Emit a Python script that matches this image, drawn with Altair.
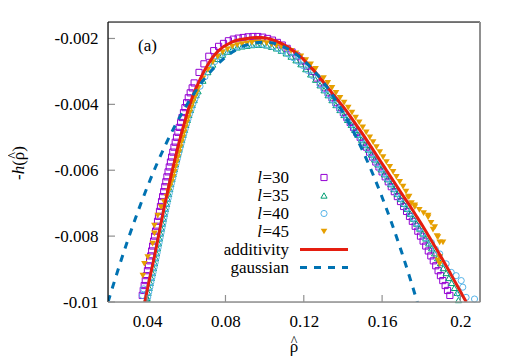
import altair as alt
import pandas as pd

# ---------------- data ----------------
# additivity (red solid line)
add_x = [0.0388, 0.0395, 0.0405, 0.0416, 0.0427, 0.0438, 0.0448, 0.0458, 0.0468, 0.0478, 0.0488,
         0.0499, 0.0510, 0.0521, 0.0533, 0.0545, 0.0557, 0.0570, 0.0584, 0.0598, 0.0613, 0.0630, 0.0650,
         0.066, 0.0685, 0.071, 0.0735, 0.076, 0.0785, 0.081, 0.0835, 0.086, 0.0885, 0.091, 0.0935,
         0.096, 0.0985, 0.101, 0.1035, 0.106, 0.1085, 0.111, 0.1135, 0.116, 0.1185, 0.121, 0.1235, 0.126,
         0.1283, 0.1324, 0.1364, 0.1405, 0.1442, 0.1477, 0.1512, 0.1545, 0.1578, 0.1611, 0.1644, 0.1677,
         0.1710, 0.1744, 0.1776, 0.1808, 0.1838, 0.1868, 0.1898, 0.1927, 0.1955, 0.1983, 0.2011, 0.2030]
add_y = [-0.0100, -0.0098, -0.0095, -0.0092, -0.0089, -0.0086, -0.0083, -0.0080, -0.0077, -0.0074, -0.0071,
         -0.0068, -0.0065, -0.0062, -0.0059, -0.0056, -0.0053, -0.0050, -0.0047, -0.0044, -0.0041, -0.0038, -0.0035,
         -0.00338, -0.00306, -0.00280, -0.00257, -0.00240, -0.00227, -0.00218, -0.00210, -0.00205, -0.00202, -0.00200, -0.00198,
         -0.00197, -0.00197, -0.00199, -0.00203, -0.00208, -0.00215, -0.00223, -0.00233, -0.00244, -0.00256, -0.00271, -0.00287, -0.00303,
         -0.0032, -0.0035, -0.0038, -0.0041, -0.0044, -0.0047, -0.0050, -0.0053, -0.0056, -0.0059, -0.0062, -0.0065,
         -0.0068, -0.0071, -0.0074, -0.0077, -0.0080, -0.0083, -0.0086, -0.0089, -0.0092, -0.0095, -0.0098, -0.0100]

# gaussian (blue dashed line)
gau_x = [0.02, 0.03, 0.04, 0.05, 0.06, 0.07, 0.08, 0.09, 0.10, 0.11, 0.12, 0.13, 0.14, 0.15, 0.16, 0.17, 0.18]
gau_y = [-0.0100, -0.00814, -0.00652, -0.00515, -0.00404, -0.00317, -0.00257, -0.00221, -0.00211,
         -0.00226, -0.00267, -0.00333, -0.00424, -0.00540, -0.00682, -0.00849, -0.0104]

# l=30 (open squares)
l30_x = [0.0375, 0.0385, 0.0396, 0.0407, 0.0418, 0.0428, 0.0438, 0.0448, 0.0458, 0.0468, 0.0479, 0.0490,
         0.0501, 0.0513, 0.0525, 0.0537, 0.0550, 0.0564, 0.0578, 0.0593, 0.0610, 0.0630,
         0.0380, 0.03905, 0.04015, 0.04125, 0.0423, 0.0433, 0.0443, 0.0453, 0.0463, 0.04735, 0.04845,
         0.04955, 0.0507, 0.0519, 0.0531, 0.05435, 0.0557, 0.0571, 0.05855, 0.06015, 0.0620,
         0.064, 0.0665, 0.069, 0.0715, 0.074, 0.0765, 0.079, 0.0815, 0.084, 0.0865, 0.089, 0.0915, 0.094,
         0.0965, 0.099, 0.1015, 0.104, 0.1065, 0.109, 0.1115, 0.114, 0.1165, 0.119, 0.1215, 0.124,
         0.1265, 0.1305, 0.1344, 0.1384, 0.1420, 0.1454, 0.1488, 0.1520, 0.1552, 0.1584, 0.1616, 0.1647,
         0.1678, 0.1710, 0.1740, 0.1769, 0.1796, 0.1823, 0.1849, 0.1874, 0.1898, 0.1922, 0.1946,
         0.1285, 0.13245, 0.1364, 0.1402, 0.1437, 0.1471, 0.1504, 0.1536, 0.1568, 0.1600, 0.16315,
         0.16625, 0.1694, 0.1725, 0.17545, 0.17825, 0.18095, 0.1836, 0.18615, 0.1886, 0.1910, 0.1934]
l30_y = [-0.0098, -0.0095, -0.0092, -0.0089, -0.0086, -0.0083, -0.0080, -0.0077, -0.0074, -0.0071, -0.0068, -0.0065,
         -0.0062, -0.0059, -0.0056, -0.0053, -0.0050, -0.0047, -0.0044, -0.0041, -0.0038, -0.0035,
         -0.00965, -0.00935, -0.00905, -0.00875, -0.00845, -0.00815, -0.00785, -0.00755, -0.00725, -0.00695, -0.00665,
         -0.00635, -0.00605, -0.00575, -0.00545, -0.00515, -0.00485, -0.00455, -0.00425, -0.00395, -0.00365,
         -0.00335, -0.00303, -0.00277, -0.00254, -0.00237, -0.00224, -0.00215, -0.00207, -0.00202, -0.00199, -0.00197, -0.00195, -0.00194,
         -0.00194, -0.00196, -0.00200, -0.00205, -0.00212, -0.00220, -0.00230, -0.00241, -0.00253, -0.00268, -0.00284, -0.00300,
         -0.0032, -0.0035, -0.0038, -0.0041, -0.0044, -0.0047, -0.0050, -0.0053, -0.0056, -0.0059, -0.0062, -0.0065,
         -0.0068, -0.0071, -0.0074, -0.0077, -0.0080, -0.0083, -0.0086, -0.0089, -0.0092, -0.0095, -0.0098,
         -0.00335, -0.00365, -0.00395, -0.00425, -0.00455, -0.00485, -0.00515, -0.00545, -0.00575, -0.00605, -0.00635,
         -0.00665, -0.00695, -0.00725, -0.00755, -0.00785, -0.00815, -0.00845, -0.00875, -0.00905, -0.00935, -0.00965]

# l=35 (open triangles)
l35_x = [0.0399, 0.0405, 0.0416, 0.0427, 0.0438, 0.0448, 0.0458, 0.0468, 0.0478, 0.0488, 0.0499, 0.0510,
         0.0521, 0.0533, 0.0545, 0.0557, 0.0570, 0.0584, 0.0598, 0.0613, 0.0630, 0.0650,
         0.0400, 0.04105, 0.04215, 0.04325, 0.0443, 0.0453, 0.0463, 0.0473, 0.0483, 0.04935, 0.05045,
         0.05155, 0.0527, 0.0539, 0.0551, 0.05635, 0.0577, 0.0591, 0.06055, 0.06215, 0.0640,
         0.066, 0.0685, 0.071, 0.0735, 0.076, 0.0785, 0.081, 0.0835, 0.086, 0.0885, 0.091, 0.0935, 0.096,
         0.0985, 0.101, 0.1035, 0.106, 0.1085, 0.111, 0.1135, 0.116, 0.1185, 0.121, 0.1235, 0.126,
         0.1283, 0.1324, 0.1364, 0.1405, 0.1442, 0.1477, 0.1512, 0.1545, 0.1578, 0.1611, 0.1644, 0.1677,
         0.1710, 0.1744, 0.1776, 0.1808, 0.1838, 0.1868, 0.1898, 0.1927, 0.1955, 0.1983, 0.1990,
         0.13035, 0.1344, 0.13845, 0.14235, 0.14595, 0.14945, 0.15285, 0.15615, 0.15945, 0.16275, 0.16605,
         0.16935, 0.1727, 0.1760, 0.1792, 0.1823, 0.1853, 0.1883, 0.19125, 0.1941, 0.1969]
l35_y = [-0.0099, -0.00972, -0.00942, -0.00912, -0.00882, -0.00852, -0.00822, -0.00792, -0.00762, -0.00732, -0.00702, -0.00672,
         -0.00642, -0.00612, -0.00582, -0.00552, -0.00522, -0.00492, -0.00462, -0.00432, -0.00402, -0.00372,
         -0.00987, -0.00957, -0.00927, -0.00897, -0.00867, -0.00837, -0.00807, -0.00777, -0.00747, -0.00717, -0.00687,
         -0.00657, -0.00627, -0.00597, -0.00567, -0.00537, -0.00507, -0.00477, -0.00447, -0.00417, -0.00387,
         -0.00360, -0.00328, -0.00302, -0.00279, -0.00262, -0.00249, -0.00240, -0.00232, -0.00227, -0.00224, -0.00222, -0.00220, -0.00219,
         -0.00219, -0.00221, -0.00225, -0.00230, -0.00237, -0.00245, -0.00255, -0.00266, -0.00278, -0.00293, -0.00309, -0.00325,
         -0.00342, -0.00372, -0.00402, -0.00432, -0.00462, -0.00492, -0.00522, -0.00552, -0.00582, -0.00612, -0.00642, -0.00672,
         -0.00702, -0.00732, -0.00762, -0.00792, -0.00822, -0.00852, -0.00882, -0.00912, -0.00942, -0.00972, -0.00994,
         -0.00357, -0.00387, -0.00417, -0.00447, -0.00477, -0.00507, -0.00537, -0.00567, -0.00597, -0.00627, -0.00657,
         -0.00687, -0.00717, -0.00747, -0.00777, -0.00807, -0.00837, -0.00867, -0.00897, -0.00927, -0.00957]

# l=40 (open circles)
l40_x = [0.0376, 0.0382, 0.0408, 0.0419, 0.0430, 0.0441, 0.0451, 0.0461, 0.0471, 0.0481, 0.0491, 0.0502,
         0.0513, 0.0524, 0.0536, 0.0548, 0.0560, 0.0573, 0.0587, 0.0601, 0.0616, 0.0633, 0.0653,
         0.0403, 0.04135, 0.04245, 0.04355, 0.0446, 0.0456, 0.0466, 0.0476, 0.0486, 0.04965, 0.05075,
         0.05185, 0.0530, 0.0542, 0.0554, 0.05665, 0.0580, 0.0594, 0.06085, 0.06245, 0.0643,
         0.067, 0.0695, 0.072, 0.0745, 0.077, 0.0795, 0.082, 0.0845, 0.087, 0.0895, 0.092, 0.0945,
         0.097, 0.0995, 0.102, 0.1045, 0.107, 0.1095, 0.112, 0.1145, 0.117, 0.1195, 0.122, 0.1245,
         0.1283, 0.1324, 0.1364, 0.1405, 0.1442, 0.1477, 0.1512, 0.1545, 0.1578, 0.1611, 0.1644, 0.1677,
         0.1710, 0.1744, 0.1776, 0.1810, 0.1852, 0.1872, 0.1894, 0.1927, 0.1953, 0.1978, 0.2004, 0.2012,
         0.1995, 0.2029, 0.2072,
         0.13035, 0.1344, 0.13845, 0.14235, 0.14595, 0.14945, 0.15285, 0.15615, 0.15945, 0.16275, 0.16605,
         0.16935, 0.1727, 0.1760, 0.1792, 0.1823]
l40_y = [-0.0098, -0.0096, -0.0097, -0.0094, -0.0091, -0.0088, -0.0085, -0.0082, -0.0079, -0.0076, -0.0073, -0.0070,
         -0.0067, -0.0064, -0.0061, -0.0058, -0.0055, -0.0052, -0.0049, -0.0046, -0.0043, -0.0040, -0.0037,
         -0.00985, -0.00955, -0.00925, -0.00895, -0.00865, -0.00835, -0.00805, -0.00775, -0.00745, -0.00715, -0.00685,
         -0.00655, -0.00625, -0.00595, -0.00565, -0.00535, -0.00505, -0.00475, -0.00445, -0.00415, -0.00385,
         -0.00345, -0.00316, -0.00291, -0.00270, -0.00255, -0.00243, -0.00235, -0.00228, -0.00224, -0.00221, -0.00219, -0.00218,
         -0.00217, -0.00218, -0.00221, -0.00225, -0.00231, -0.00238, -0.00247, -0.00258, -0.00269, -0.00282, -0.00297, -0.00313,
         -0.0034, -0.0037, -0.0040, -0.0043, -0.0046, -0.0049, -0.0052, -0.0055, -0.0058, -0.0061, -0.0064, -0.0067,
         -0.0070, -0.0073, -0.0076, -0.0079, -0.0082, -0.0084, -0.00854, -0.00884, -0.0091, -0.0092, -0.00935, -0.00955,
         -0.00976, -0.00986, -0.00991,
         -0.00355, -0.00385, -0.00415, -0.00445, -0.00475, -0.00505, -0.00535, -0.00565, -0.00595, -0.00625, -0.00655,
         -0.00685, -0.00715, -0.00745, -0.00775, -0.00805]

# l=45 (filled down triangles)
l45_x = [0.0378, 0.0386, 0.0403, 0.0428, 0.0437, 0.0437, 0.0454, 0.0471, 0.0486, 0.0500, 0.0516, 0.0533,
         0.0545, 0.0557, 0.0569, 0.0582, 0.0596, 0.0610, 0.0625, 0.0642, 0.0662,
         0.0508, 0.05245, 0.0539, 0.0551, 0.0563, 0.05755, 0.0589, 0.0603, 0.06175, 0.06335, 0.0652,
         0.0685, 0.071, 0.0735, 0.076, 0.0785, 0.081, 0.0835, 0.086, 0.0885, 0.091, 0.0935, 0.096,
         0.0985, 0.101, 0.1035, 0.106, 0.1085, 0.111, 0.1135, 0.116, 0.1185, 0.121, 0.1235, 0.126,
         0.1301, 0.1344, 0.1385, 0.1427, 0.1465, 0.1501, 0.1537, 0.1571, 0.1605, 0.1639, 0.1673, 0.1707,
         0.13225, 0.13645, 0.1406, 0.1446, 0.1483, 0.1519, 0.1554, 0.1588, 0.1622, 0.1656, 0.1690, 0.1722,
         0.1733, 0.1738, 0.1750, 0.1767, 0.1767, 0.1790, 0.1812, 0.1835, 0.1835, 0.1850, 0.1860, 0.1869,
         0.1880, 0.1885, 0.1894, 0.1911, 0.1894, 0.1885, 0.1894]
l45_y = [-0.0092, -0.00884, -0.00864, -0.00823, -0.00792, -0.00768, -0.00738, -0.00712, -0.00695, -0.0068, -0.0065, -0.0062,
         -0.0059, -0.0056, -0.0053, -0.0050, -0.0047, -0.0044, -0.0041, -0.0038, -0.0035,
         -0.00665, -0.00635, -0.00605, -0.00575, -0.00545, -0.00515, -0.00485, -0.00455, -0.00425, -0.00395, -0.00365,
         -0.00321, -0.00295, -0.00272, -0.00255, -0.00242, -0.00233, -0.00225, -0.00220, -0.00217, -0.00215, -0.00213, -0.00212,
         -0.00212, -0.00214, -0.00218, -0.00222, -0.00225, -0.00230, -0.00238, -0.00245, -0.00254, -0.00266, -0.00279, -0.00292,
         -0.0032, -0.0035, -0.0038, -0.0041, -0.0044, -0.0047, -0.0050, -0.0053, -0.0056, -0.0059, -0.0062, -0.0065,
         -0.00335, -0.00365, -0.00395, -0.00425, -0.00455, -0.00485, -0.00515, -0.00545, -0.00575, -0.00605, -0.00635, -0.00665,
         -0.00682, -0.0068, -0.0070, -0.00712, -0.00707, -0.0072, -0.0073, -0.00738, -0.00743, -0.0076, -0.0078, -0.00773,
         -0.0080, -0.00803, -0.00819, -0.00819, -0.00864, -0.00874, -0.00884]

series_names = ["l=30", "l=35", "l=40", "l=45"]
line_names = ["additivity", "gaussian"]
x_ticks = [0.04, 0.08, 0.12, 0.16, 0.2]
y_ticks = [-0.002, -0.004, -0.006, -0.008, -0.01]
x_domain = [0.02, 0.21]
y_domain = [-0.01, -0.0015]
panel_label = "(a)"

# ---------------- styling ----------------
W, H = 372, 280
FONT = "Liberation Serif"
FS = 17
C30, C35, C40, C45 = "#9400d3", "#009e73", "#56b4e9", "#e69f00"
CRED, CBLUE = "#e51e10", "#0072b2"
GRAY = "#909090"

xscale = alt.Scale(domain=x_domain, nice=False, zero=False)
yscale = alt.Scale(domain=y_domain, nice=False, zero=False)
xaxis = alt.Axis(values=x_ticks, ticks=False, domain=False, grid=False, title=None,
                 labelExpr="format(datum.value, '.2~f')", labelFont=FONT,
                 labelFontSize=FS, labelColor="black", labelPadding=11)
yaxis = alt.Axis(values=y_ticks, ticks=False, domain=False, grid=False, title=None,
                 labelExpr="replace(format(datum.value, '.3~f'), '\u2212', '-')",
                 labelFont=FONT, labelFontSize=FS, labelColor="black", labelPadding=10)


def frame(xs, ys):
    return pd.DataFrame({"x": xs, "y": ys})


def enc_xy():
    return dict(x=alt.X("x:Q", scale=xscale, axis=xaxis),
                y=alt.Y("y:Q", scale=yscale, axis=yaxis))


one = pd.DataFrame({"k": [0]})

xt = alt.Chart(pd.DataFrame({"x": x_ticks})).mark_rule(color=GRAY, strokeWidth=1.2).encode(
    x=alt.X("x:Q", scale=xscale, axis=xaxis), y=alt.value(H), y2=alt.value(H - 7))
yt = alt.Chart(pd.DataFrame({"y": y_ticks})).mark_rule(color=GRAY, strokeWidth=1.2).encode(
    y=alt.Y("y:Q", scale=yscale, axis=yaxis), x=alt.value(0), x2=alt.value(7))

SZ = 38
p30 = alt.Chart(frame(l30_x, l30_y)).mark_point(shape="square", filled=False, color=C30,
                                                size=SZ, strokeWidth=1, opacity=1).encode(**enc_xy())
p35 = alt.Chart(frame(l35_x, l35_y)).mark_point(shape="triangle-up", filled=False, color=C35,
                                                size=SZ, strokeWidth=1, opacity=1).encode(**enc_xy())
p40 = alt.Chart(frame(l40_x, l40_y)).mark_point(shape="circle", filled=False, color=C40,
                                                size=SZ, strokeWidth=1, opacity=1).encode(**enc_xy())
p45 = alt.Chart(frame(l45_x, l45_y)).mark_point(shape="triangle-down", filled=True, color=C45,
                                                size=SZ + 6, opacity=1).encode(**enc_xy())

red = alt.Chart(frame(add_x, add_y)).mark_line(color=CRED, strokeWidth=3, interpolate="monotone",
                                               clip=True).encode(**enc_xy())
blue = alt.Chart(frame(gau_x, gau_y)).mark_line(color=CBLUE, strokeWidth=3, strokeDash=[7, 7],
                                                interpolate="monotone", clip=True).encode(**enc_xy())

# borders
b_top = alt.Chart(one).mark_rule(color="black", strokeWidth=1.2).encode(
    x=alt.value(0), x2=alt.value(W), y=alt.value(0))
b_left = alt.Chart(one).mark_rule(color="black", strokeWidth=1.2).encode(
    x=alt.value(0), y=alt.value(0), y2=alt.value(H))
b_bottom = alt.Chart(one).mark_rule(color=GRAY, strokeWidth=1.5).encode(
    x=alt.value(0), x2=alt.value(W), y=alt.value(H))
b_right = alt.Chart(one).mark_rule(color=GRAY, strokeWidth=2).encode(
    x=alt.value(W), y=alt.value(0), y2=alt.value(H))

# legend
LEG_TX = 181
LEG_MX = 216
LEG_L1, LEG_L2 = 192, 240
LEG_Y0 = 155.5
LEG_DY = 18
marks = [("square", False, C30, SZ), ("triangle-up", False, C35, SZ),
         ("circle", False, C40, SZ), ("triangle-down", True, C45, SZ + 6)]
legend = []
for i, name in enumerate(series_names):
    yv = LEG_Y0 + i * LEG_DY
    legend.append(alt.Chart(one).mark_text(text=name[1:], font=FONT, fontSize=FS, align="right",
                                           baseline="middle", color="black").encode(
        x=alt.value(LEG_TX), y=alt.value(yv)))
    legend.append(alt.Chart(one).mark_text(text=name[0], font=FONT, fontSize=FS, fontStyle="italic",
                                           align="right", baseline="middle", color="black").encode(
        x=alt.value(LEG_TX - 27), y=alt.value(yv)))
    shp, fil, col, sz = marks[i]
    legend.append(alt.Chart(one).mark_point(shape=shp, filled=fil, color=col, size=sz, strokeWidth=1,
                                            opacity=1).encode(x=alt.value(LEG_MX), y=alt.value(yv)))
for j, name in enumerate(line_names):
    yv = LEG_Y0 + (4 + j) * LEG_DY
    legend.append(alt.Chart(one).mark_text(text=name, font=FONT, fontSize=FS, align="right",
                                           baseline="middle", color="black").encode(
        x=alt.value(LEG_TX), y=alt.value(yv)))
    if j == 0:
        legend.append(alt.Chart(one).mark_rule(color=CRED, strokeWidth=3).encode(
            x=alt.value(LEG_L1), x2=alt.value(LEG_L2), y=alt.value(yv)))
    else:
        legend.append(alt.Chart(one).mark_rule(color=CBLUE, strokeWidth=3, strokeDash=[7, 7]).encode(
            x=alt.value(LEG_L1), x2=alt.value(LEG_L2), y=alt.value(yv)))

label_a = alt.Chart(one).mark_text(text=panel_label, font=FONT, fontSize=FS, align="left",
                                   baseline="middle", color="black").encode(
    x=alt.value(30), y=alt.value(23.5))


def txt(t, x, y, style="normal", angle=0, align="center", size=FS):
    return alt.Chart(one).mark_text(text=t, font=FONT, fontSize=size, fontStyle=style, angle=angle,
                                    align=align, baseline="middle", color="black").encode(
        x=alt.value(x), y=alt.value(y))


# x title: rho with a hat above it
xtitle = [txt("ρ", W / 2, 325), txt("^", W / 2, 320, size=14)]
# y title (rotated): -h(rho hat)
ytitle = [txt("-", -89, 158, angle=270, align="left"),
          txt("h", -89, 152.3, style="italic", angle=270, align="left"),
          txt("(ρ)", -89, 143.8, angle=270, align="left"),
          txt("^", -94, 133.5, angle=270, size=14)]

chart = alt.layer(
    p30, p35, p40, p45, red, blue, xt, yt, b_top, b_left, b_bottom, b_right,
    label_a, *xtitle, *ytitle, *legend
).properties(
    width=W, height=H,
    autosize=alt.AutoSizeParams(type="none"),
    padding={"left": 100, "top": 14, "right": 24, "bottom": 56},
).configure_view(stroke=None).configure(background="white")

chart.save("out.html", embed_options={"renderer": "svg", "actions": False})
